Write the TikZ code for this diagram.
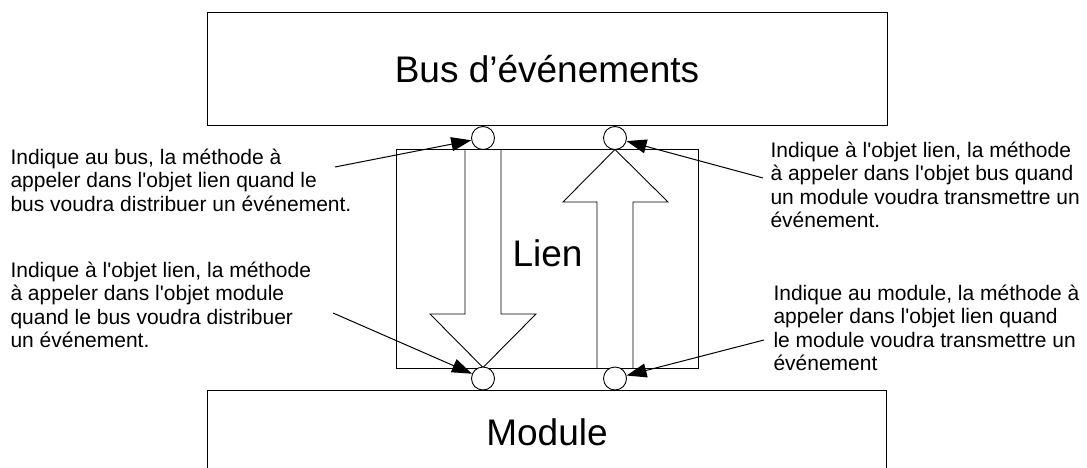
\documentclass[tikz,border=0pt]{standalone}
\usepackage{fontspec}
% \newfontfamily keeps the straight apostrophe (no TeX ligature mapping)
\newfontfamily\arial{Liberation Sans}
\usetikzlibrary{arrows.meta}
\begin{document}
\begin{tikzpicture}[x=1pt,y=-1pt,line width=1pt,
  every node/.style={font=\arial},
  box/.style={draw,line width=1pt,inner sep=0pt},
  port/.style={circle,draw,fill=white,minimum size=23pt,inner sep=0pt,line width=0.9pt},
  note/.style={align=left,inner sep=0pt,anchor=west,font=\arial\fontsize{21}{23.5}\selectfont},
  title/.style={font=\arial\fontsize{37}{40}\selectfont},
  flow/.style={draw,line width=0.9pt},
  callout/.style={-{Triangle[length=20pt,width=14pt]},line width=1pt}]
\clip (0,0) rectangle (1087,468);
\fill[white] (0,0) rectangle (1087,468);

% the three blocks
\node[box,title,minimum width=680pt,minimum height=113pt] (bus) at (547,69.5) {Bus d’événements};
\node[box,minimum width=679pt,minimum height=140pt] (module) at (546.5,460) {};
\node[title] (modlbl) at (547,432) {Module};
\node[box,minimum width=302pt,minimum height=218.5pt] (lien) at (547,258.75) {};
\node[title] (lienlbl) at (547.5,253) {Lien};

% direction of the events
\draw[flow] (465,149.5) -- (465,314) -- (430,314) -- (483,367.5) -- (536,314) -- (501,314) -- (501,149.5);
\draw[flow] (597,368) -- (597,202) -- (563,202) -- (615,149.5) -- (668,202) -- (633,202) -- (633,368);

% connection points
\node[port] (p1) at (483,138) {};
\node[port] (p2) at (615,138) {};
\node[port] (p3) at (483,378.5) {};
\node[port] (p4) at (615,378.5) {};

% explanations
\node[note] (n1) at (10,180) {Indique au bus, la méthode à\\appeler dans l'objet lien quand le\\bus voudra distribuer un événement.};
\node[note] (n2) at (770,185) {Indique à l'objet lien, la méthode\\à appeler dans l'objet bus quand\\un module voudra transmettre un\\événement.};
\node[note] (n3) at (10,305) {Indique à l'objet lien, la méthode\\à appeler dans l'objet module\\quand le bus voudra distribuer\\un événement.};
\node[note] (n4) at (773,328) {Indique au module, la méthode à\\appeler dans l'objet lien quand\\le module voudra transmettre un\\événement};

\coordinate (s1) at (335,167);
\coordinate (s2) at (763,178);
\coordinate (s3) at (333,313);
\coordinate (s4) at (764,340);
\draw[callout] (s1) -- (p1);
\draw[callout] (s2) -- (p2);
\draw[callout] (s3) -- (p3);
\draw[callout] (s4) -- (p4);
\end{tikzpicture}
\end{document}
